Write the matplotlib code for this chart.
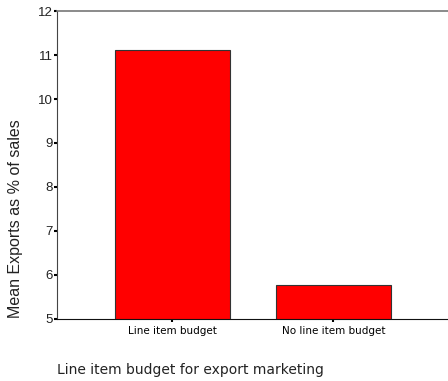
import numpy as np
import matplotlib
matplotlib.use("Agg")
import matplotlib.pyplot as plt

# data
categories = ["Line item budget", "No line item budget"]
mean_exports = [11.11, 5.77]
y_ticks = [5, 6, 7, 8, 9, 10, 11, 12]

fig = plt.figure(figsize=(4.48, 3.81), dpi=100)
ax = fig.add_axes([0.127, 0.163, 0.873, 0.808])

x = np.arange(len(categories))
ax.bar(x, mean_exports, width=0.714, bottom=0, color="#ff0000",
       edgecolor="#333333", linewidth=0.8)

ax.set_ylim(5, 12)
ax.set_xlim(-0.717, 1.711)
ax.set_yticks(y_ticks)
ax.set_yticklabels([str(t) for t in y_ticks], fontfamily="Liberation Sans",
                   fontsize=9.5, color="#222222")
ax.set_xticks(x)
ax.set_xticklabels(categories, fontfamily="DejaVu Sans", fontsize=7.5)
ax.tick_params(axis="y", length=2, width=1.5, pad=1, color="black")
ax.tick_params(axis="x", length=2, width=1.5, pad=3, color="black")

ax.spines["right"].set_visible(False)
ax.spines["top"].set_color("#777777")
ax.spines["top"].set_linewidth(1.2)
ax.spines["left"].set_color("#444444")
ax.spines["bottom"].set_color("#111111")

fig.text(0.035, 0.425, "Mean Exports as % of sales", rotation=90,
         ha="center", va="center", fontfamily="Liberation Sans", fontsize=11.5,
         color="#222222")
fig.text(0.127, 0.029, "Line item budget for export marketing",
         ha="left", va="center", fontfamily="DejaVu Sans", fontsize=10,
         color="#222222")

fig.savefig("out.png", dpi=100)
